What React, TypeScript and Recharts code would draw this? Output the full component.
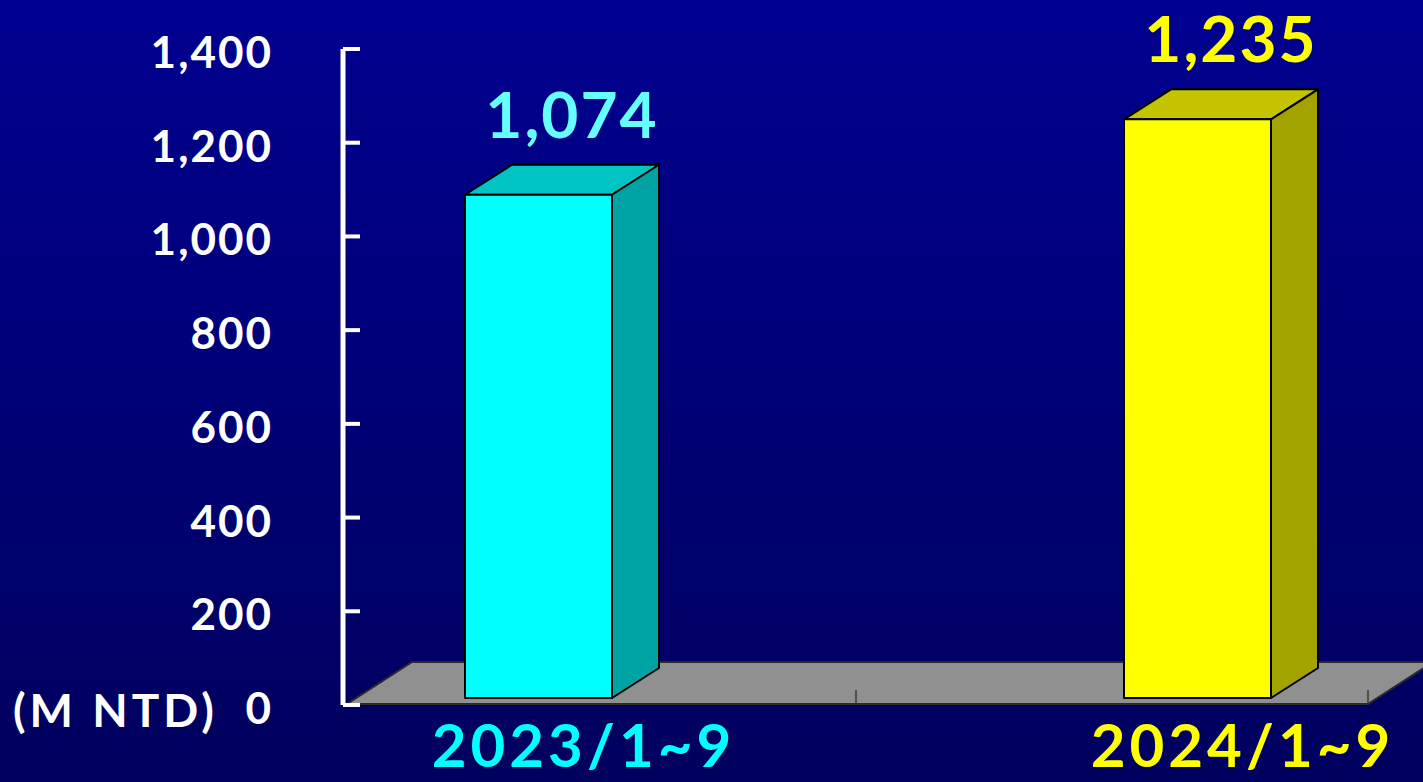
import { BarChart, Bar, XAxis, YAxis, LabelList } from "recharts";

// values (M NTD)
const categories = ["2023/1~9", "2024/1~9"];
const revenue = [1074, 1235];
const yTicks = [0, 200, 400, 600, 800, 1000, 1200, 1400];
const unitLabel = "(M NTD)";

const frontColors = ["#00FFFF", "#FFFF00"];
const topColors = ["#00C4C4", "#C4C400"];
const sideColors = ["#00A3A3", "#A3A300"];
const labelColors = ["#66FFFF", "#FFFF00"];
const categoryColors = ["#00FFFF", "#FFFF00"];

const data = categories.map((name, i) => ({ name, value: revenue[i] }));

const W = 1423;
const H = 782;
const FONT = '"Comic Sans MS", "Lato", sans-serif';
const DX = 47;
const DY = -30;
const LIFT = 7;

const fmt = (v: number) => v.toLocaleString("en-US");

function Box3D(props: any) {
  const { x, y, width, height, index } = props;
  const top = y - LIFT;
  const bottom = y - LIFT + height;
  const r = x + width;
  return (
    <g stroke="#000" strokeWidth={2} strokeLinejoin="round">
      <polygon
        points={`${x},${top} ${x + DX},${top + DY} ${r + DX},${top + DY} ${r},${top}`}
        fill={topColors[index]}
      />
      <polygon
        points={`${r},${top} ${r + DX},${top + DY} ${r + DX},${bottom + DY} ${r},${bottom}`}
        fill={sideColors[index]}
      />
      <rect x={x} y={top} width={width} height={height} fill={frontColors[index]} />
    </g>
  );
}

function ValueLabel(props: any) {
  const { x, y, width, value } = props;
  const i = props.index ?? revenue.indexOf(value);
  return (
    <text
      x={x + width / 2 + DX / 2 + 10}
      y={y - LIFT - 57}
      textAnchor="middle"
      fill={labelColors[i]}
      fontFamily={FONT}
      fontWeight="bold"
      fontSize={64}
      letterSpacing={2}
    >
      {fmt(value)}
    </text>
  );
}

function YTick(props: any) {
  const { x, y, payload } = props;
  return (
    <g>
      <line x1={x} x2={x + 17} y1={y} y2={y} stroke="#fff" strokeWidth={4} />
      <text
        x={x - 70}
        y={y + 2}
        textAnchor="end"
        dominantBaseline="central"
        fill="#fff"
        fontFamily={FONT}
        fontWeight="bold"
        fontSize={44}
        letterSpacing={2}
      >
        {fmt(payload.value)}
      </text>
      {payload.value === 0 && (
        <text
          x={x - 125}
          y={y + 4}
          textAnchor="end"
          dominantBaseline="central"
          fill="#fff"
          fontFamily={FONT}
          fontWeight="bold"
          fontSize={46}
          letterSpacing={4}
        >
          {unitLabel}
        </text>
      )}
    </g>
  );
}

function XTick(props: any) {
  const { x, y, payload, index } = props;
  return (
    <text
      x={x + 45}
      y={y + 62}
      textAnchor="middle"
      fill={categoryColors[index]}
      fontFamily={FONT}
      fontWeight="bold"
      fontSize={60}
      letterSpacing={4}
    >
      {payload.value}
    </text>
  );
}

function Floor() {
  return (
    <svg width={W} height={H} style={{ position: "absolute", left: 0, top: 0 }}>
      <polygon
        points="347,704 1368,704 1433,662 412,662"
        fill="#909090"
        stroke="#2a2a2a"
        strokeWidth={2}
      />
      <line x1={856} x2={856} y1={690} y2={704} stroke="#3a3a3a" strokeWidth={1.5} />
      <line x1={1368} x2={1368} y1={690} y2={704} stroke="#3a3a3a" strokeWidth={1.5} />
    </svg>
  );
}

export default function App() {
  return (
    <div
      style={{
        position: "absolute",
        left: 0,
        top: 0,
        width: W,
        height: H,
        overflow: "hidden",
        background: "linear-gradient(to bottom, #000090, #00005e)",
      }}
    >
      <Floor />
      <div style={{ position: "absolute", left: 0, top: 0 }}>
        <BarChart
          width={W}
          height={H}
          data={data}
          margin={{ top: 49, right: 55, bottom: 0, left: 0 }}
        >
          <XAxis
            dataKey="name"
            padding={{ left: -134, right: -159 }}
            height={77}
            interval={0}
            tickLine={false}
            axisLine={false}
            tickSize={0}
            tickMargin={0}
            tick={<XTick />}
          />
          <YAxis
            type="number"
            domain={[0, 1400]}
            ticks={yTicks}
            interval={0}
            width={343}
            tickLine={false}
            tickSize={0}
            tickMargin={0}
            axisLine={{ stroke: "#fff", strokeWidth: 5 }}
            tick={<YTick />}
          />
          <Bar dataKey="value" barSize={147} shape={<Box3D />} isAnimationActive={false}>
            <LabelList dataKey="value" content={<ValueLabel />} />
          </Bar>
        </BarChart>
      </div>
    </div>
  );
}
